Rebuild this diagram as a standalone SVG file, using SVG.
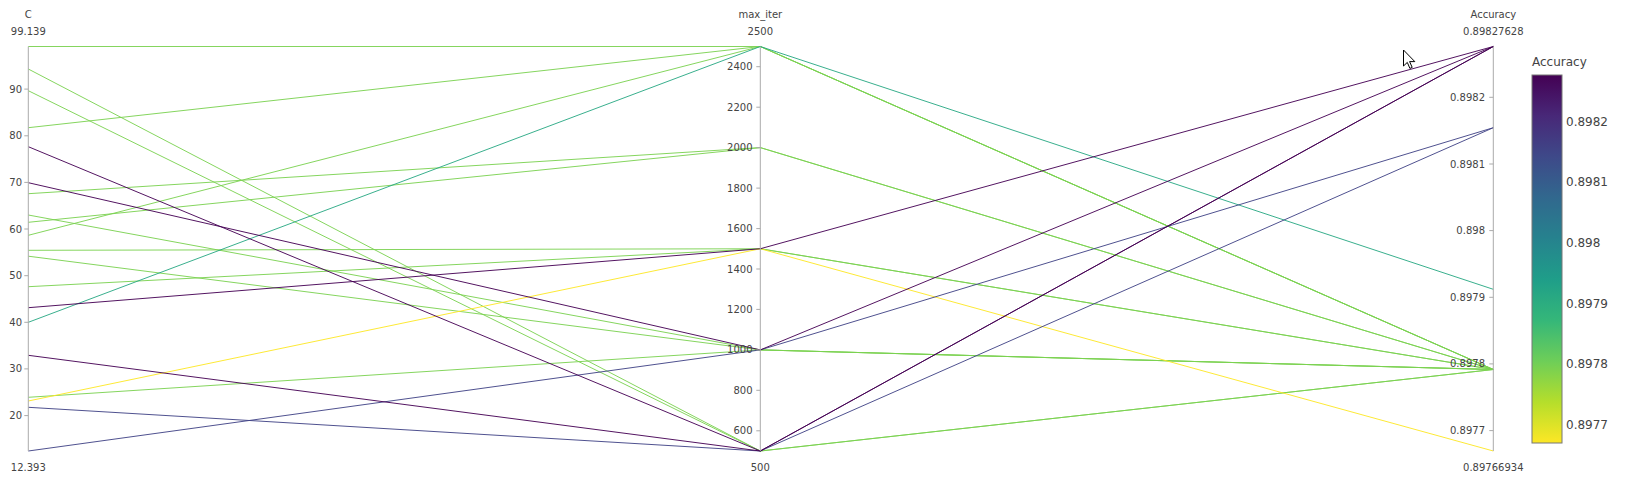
<svg xmlns="http://www.w3.org/2000/svg" width="1625" height="492" viewBox="0 0 1625 492">
<style>
text{font-family:"DejaVu Sans","Liberation Sans",sans-serif;fill:#444;}
.t{font-size:10px;}
.tk{font-size:10px;text-anchor:end;}
.mid{text-anchor:middle;}
.axis{stroke:#aaa;stroke-width:1;fill:none;}
.ln{fill:none;stroke-width:1;stroke-linejoin:round;stroke-opacity:0.92;}
.g{stroke:#7bd150;}
.p{stroke:#440154;}
.b{stroke:#404286;}
.tl{stroke:#28a883;}
.y{stroke:#fde725;}
.cb{font-size:12px;}
</style>
<defs>
<linearGradient id="vir" x1="0" y1="0" x2="0" y2="1">
<stop offset="0" stop-color="#440154"/>
<stop offset="0.111" stop-color="#482878"/>
<stop offset="0.222" stop-color="#3e4989"/>
<stop offset="0.333" stop-color="#31688e"/>
<stop offset="0.444" stop-color="#26828e"/>
<stop offset="0.556" stop-color="#1f9e89"/>
<stop offset="0.667" stop-color="#35b779"/>
<stop offset="0.778" stop-color="#6ece58"/>
<stop offset="0.889" stop-color="#b5de2b"/>
<stop offset="1" stop-color="#fde725"/>
</linearGradient>
</defs>
<rect width="1625" height="492" fill="#fff"/>
<g id="connectors">
<polyline class="ln g" points="28.3,46.5 760.3,46.5 1493.3,369.5"/>
<polyline class="ln g" points="28.3,69 760.3,451 1493.3,369.5"/>
<polyline class="ln g" points="28.3,90.7 760.3,451 1493.3,369.5"/>
<polyline class="ln g" points="28.3,127.7 760.3,46.5 1493.3,369.5"/>
<polyline class="ln g" points="28.3,193.7 760.3,147.6 1493.3,369.5"/>
<polyline class="ln g" points="28.3,215 760.3,349.9 1493.3,369.5"/>
<polyline class="ln g" points="28.3,222.3 760.3,147.6 1493.3,369.5"/>
<polyline class="ln g" points="28.3,235.3 760.3,46.5 1493.3,369.5"/>
<polyline class="ln g" points="28.3,250.3 760.3,248.75 1493.3,369.5"/>
<polyline class="ln g" points="28.3,256.2 760.3,349.9 1493.3,369.5"/>
<polyline class="ln g" points="28.3,286.7 760.3,248.75 1493.3,369.5"/>
<polyline class="ln g" points="28.3,397.3 760.3,349.9 1493.3,369.5"/>
<polyline class="ln tl" points="28.3,322.3 760.3,46.5 1493.3,289.3"/>
<polyline class="ln y" points="28.3,401 760.3,248.75 1493.3,451"/>
<polyline class="ln b" points="28.3,407.3 760.3,451 1493.3,127.7"/>
<polyline class="ln b" points="28.3,451 760.3,349.9 1493.3,127.7"/>
<polyline class="ln p" points="28.3,146.7 760.3,451 1493.3,46.5"/>
<polyline class="ln p" points="28.3,182.7 760.3,349.9 1493.3,46.5"/>
<polyline class="ln p" points="28.3,307.7 760.3,248.75 1493.3,46.5"/>
<polyline class="ln p" points="28.3,355.3 760.3,451 1493.3,46.5"/>
</g>
<g id="axis-C">
<line class="axis" x1="28.3" y1="46.5" x2="28.3" y2="451"/>
<path class="axis" d="M24.3,89.1H28.3M24.3,135.8H28.3M24.3,182.4H28.3M24.3,229H28.3M24.3,275.7H28.3M24.3,322.3H28.3M24.3,368.9H28.3M24.3,415.6H28.3"/>
<text class="t mid" x="28.3" y="17.5">C</text>
<text class="t mid" x="28.3" y="35">99.139</text>
<text class="t mid" x="28.3" y="471">12.393</text>
<text class="tk" x="22" y="92.6">90</text>
<text class="tk" x="22" y="139.3">80</text>
<text class="tk" x="22" y="185.9">70</text>
<text class="tk" x="22" y="232.5">60</text>
<text class="tk" x="22" y="279.2">50</text>
<text class="tk" x="22" y="325.8">40</text>
<text class="tk" x="22" y="372.4">30</text>
<text class="tk" x="22" y="419.1">20</text>
</g>
<g id="axis-max_iter">
<line class="axis" x1="760.3" y1="46.5" x2="760.3" y2="451"/>
<path class="axis" d="M756.3,66.7H760.3M756.3,107.2H760.3M756.3,147.6H760.3M756.3,188.1H760.3M756.3,228.6H760.3M756.3,269H760.3M756.3,309.4H760.3M756.3,349.9H760.3M756.3,390.3H760.3M756.3,430.8H760.3"/>
<text class="t mid" x="760.3" y="17.5">max_iter</text>
<text class="t mid" x="760.3" y="35">2500</text>
<text class="t mid" x="760.3" y="471">500</text>
<text class="tk" x="752.5" y="70.2">2400</text>
<text class="tk" x="752.5" y="110.7">2200</text>
<text class="tk" x="752.5" y="151.1">2000</text>
<text class="tk" x="752.5" y="191.6">1800</text>
<text class="tk" x="752.5" y="232.1">1600</text>
<text class="tk" x="752.5" y="272.5">1400</text>
<text class="tk" x="752.5" y="312.9">1200</text>
<text class="tk" x="752.5" y="353.4">1000</text>
<text class="tk" x="752.5" y="393.8">800</text>
<text class="tk" x="752.5" y="434.3">600</text>
</g>
<g id="axis-Accuracy">
<line class="axis" x1="1493.3" y1="46.5" x2="1493.3" y2="451"/>
<path class="axis" d="M1489.3,97.3H1493.3M1489.3,164H1493.3M1489.3,230.6H1493.3M1489.3,297.3H1493.3M1489.3,363.9H1493.3M1489.3,430.6H1493.3"/>
<text class="t mid" x="1493.3" y="17.5">Accuracy</text>
<text class="t mid" x="1493.3" y="35">0.89827628</text>
<text class="t mid" x="1493.3" y="471">0.89766934</text>
<text class="tk" x="1485" y="100.8">0.8982</text>
<text class="tk" x="1485" y="167.5">0.8981</text>
<text class="tk" x="1485" y="234.1">0.898</text>
<text class="tk" x="1485" y="300.8">0.8979</text>
<text class="tk" x="1485" y="367.4">0.8978</text>
<text class="tk" x="1485" y="434.1">0.8977</text>
</g>
<g id="colorbar">
<rect x="1532" y="75" width="30" height="368" fill="url(#vir)" stroke="#777" stroke-width="1"/>
<text class="cb" x="1532" y="66">Accuracy</text>
<text class="cb" x="1566" y="125.7">0.8982</text>
<text class="cb" x="1566" y="186.4">0.8981</text>
<text class="cb" x="1566" y="247">0.898</text>
<text class="cb" x="1566" y="307.7">0.8979</text>
<text class="cb" x="1566" y="368.4">0.8978</text>
<text class="cb" x="1566" y="429">0.8977</text>
</g>
<g id="cursor">
<path d="M1403.5,50 v16 l3.8,-3.6 l2.6,6 l2.3,-1 l-2.6,-5.8 h5.2 z" fill="#fff" stroke="#000" stroke-width="1" stroke-linejoin="miter"/>
</g>
</svg>
